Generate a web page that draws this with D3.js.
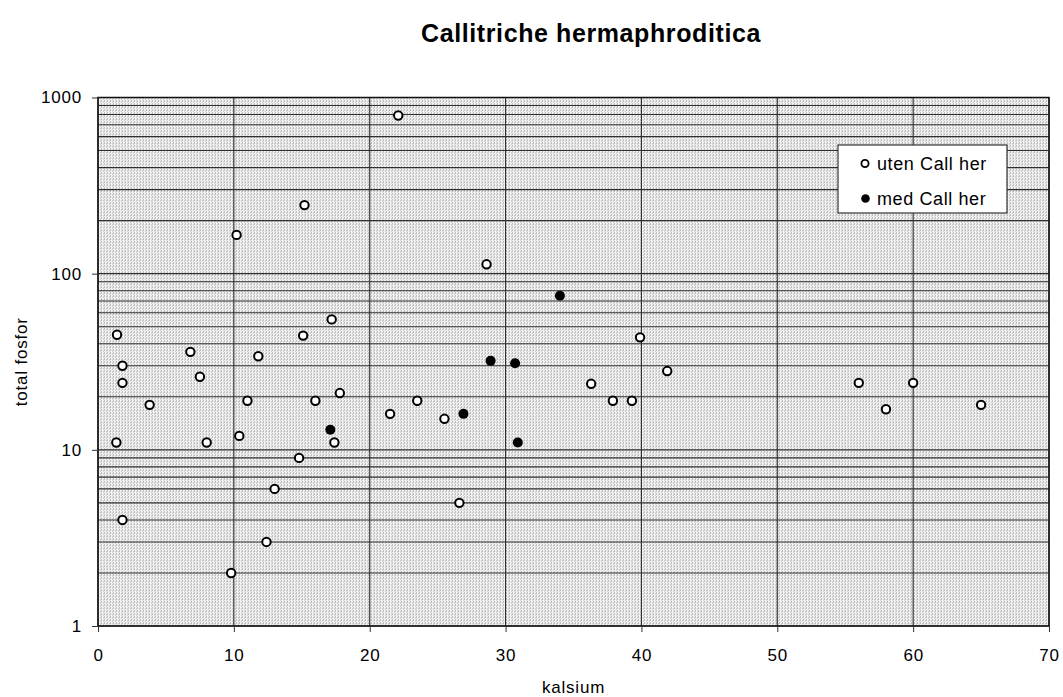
<!DOCTYPE html>
<html>
<head>
<meta charset="utf-8">
<script src="https://cdn.jsdelivr.net/npm/d3@7"></script>
<style>
  body { margin: 0; background: #fff; }
  text { font-family: "Liberation Sans", Arial, sans-serif; }
</style>
</head>
<body>
<div id="vis"></div>
<script>
// uten Call her (open circles)
var utenKalsium = [1.4, 1.35, 1.8, 1.8, 1.8, 3.8, 6.8, 7.5, 8.0, 9.8, 10.2, 10.4, 11.0, 11.8, 12.4, 13.0, 14.8, 15.2, 15.1, 16.0, 17.2, 17.4, 17.8, 21.5, 22.1, 23.5, 25.5, 26.6, 28.6, 36.3, 37.9, 39.3, 39.9, 41.9, 56.0, 58.0, 60.0, 65.0];
var utenFosfor = [45, 11, 30, 24, 4, 18, 36, 26, 11, 2, 166, 12, 19, 34, 3, 6, 9, 245, 44.5, 19, 55, 11, 21, 16, 790, 19, 15, 5, 113, 23.7, 19, 19, 43.5, 28, 24, 17, 24, 18];

// med Call her (filled circles)
var medKalsium = [17.1, 26.9, 28.9, 30.7, 30.9, 34.0];
var medFosfor = [13, 16, 32, 31, 11, 75];

var xTicks = [0, 10, 20, 30, 40, 50, 60, 70];
var yTicks = [1, 10, 100, 1000];

var width = 1063;
var height = 697;

var margin = {
    top: 97.5,
    left: 98,
    right: 14,
    bottom: 71
};

var svg = d3.select("#vis")
    .append("svg")
    .attr("width", width)
    .attr("height", height);

var w = width - margin.left - margin.right;
var h = height - margin.top - margin.bottom;

// stipple background
var defs = svg.append("defs");
var pat = defs.append("pattern")
    .attr("id", "stipple")
    .attr("patternUnits", "userSpaceOnUse")
    .attr("width", 3)
    .attr("height", 3);
pat.append("rect").attr("width", 3).attr("height", 3).attr("fill", "#f2f2f2");
pat.append("rect").attr("x", 0).attr("y", 0).attr("width", 1).attr("height", 1).attr("fill", "#8a8a8a");
pat.append("rect").attr("x", 2).attr("y", 1).attr("width", 1).attr("height", 1).attr("fill", "#b0b0b0");

var g = svg.append("g")
    .attr("transform", "translate(" + margin.left + "," + margin.top + ")");

var xscale = d3.scaleLinear()
    .domain([0, 70])
    .range([0, w]);

var yscale = d3.scaleLog()
    .domain([1, 1000])
    .range([h, 0]);

g.append("rect")
    .attr("width", w)
    .attr("height", h)
    .attr("fill", "url(#stipple)");

// horizontal grid at every log tick
var minor = [];
[1, 10, 100].forEach(function (d) {
    for (var k = 1; k <= 9; k++) minor.push(d * k);
});

g.selectAll(".hgrid")
    .data(minor)
    .enter()
    .append("line")
    .attr("class", "hgrid")
    .attr("x1", 0)
    .attr("x2", w)
    .attr("y1", function (d) { return yscale(d); })
    .attr("y2", function (d) { return yscale(d); })
    .attr("stroke", "#2e2e2e")
    .attr("stroke-width", 1.1);

g.selectAll(".vgrid")
    .data(xTicks)
    .enter()
    .append("line")
    .attr("class", "vgrid")
    .attr("x1", function (d) { return xscale(d); })
    .attr("x2", function (d) { return xscale(d); })
    .attr("y1", 0)
    .attr("y2", h)
    .attr("stroke", "#2e2e2e")
    .attr("stroke-width", 1.1);

g.append("rect")
    .attr("width", w)
    .attr("height", h)
    .attr("fill", "none")
    .attr("stroke", "#111")
    .attr("stroke-width", 1.5);

// axes
var xaxis = d3.axisBottom(xscale)
    .tickValues(xTicks)
    .tickSize(6)
    .tickPadding(17)
    .tickFormat(d3.format("d"));

var yaxis = d3.axisLeft(yscale)
    .tickValues(yTicks)
    .tickSize(6)
    .tickPadding(10)
    .tickFormat(d3.format("d"));

function styleAxis(a) {
    a.select(".domain").remove();
    a.selectAll("line").attr("stroke", "#333");
    a.selectAll("text")
        .attr("font-size", 17)
        .attr("letter-spacing", 0.8)
        .attr("fill", "#000")
        .attr("font-family", "Liberation Sans, Arial, sans-serif");
}

g.append("g")
    .attr("transform", "translate(0," + h + ")")
    .call(xaxis)
    .call(styleAxis);

g.append("g")
    .call(yaxis)
    .call(styleAxis);

// points
var uten = utenKalsium.map(function (d, i) { return [d, utenFosfor[i]]; });
var med = medKalsium.map(function (d, i) { return [d, medFosfor[i]]; });

g.selectAll(".uten")
    .data(uten)
    .enter()
    .append("circle")
    .attr("class", "uten")
    .attr("cx", function (d) { return xscale(d[0]); })
    .attr("cy", function (d) { return yscale(d[1]); })
    .attr("r", 4.2)
    .attr("fill", "#fff")
    .attr("stroke", "#000")
    .attr("stroke-width", 2);

g.selectAll(".med")
    .data(med)
    .enter()
    .append("circle")
    .attr("class", "med")
    .attr("cx", function (d) { return xscale(d[0]); })
    .attr("cy", function (d) { return yscale(d[1]); })
    .attr("r", 5)
    .attr("fill", "#000");

// legend
var lg = svg.append("g").attr("transform", "translate(838,145)");
lg.append("rect")
    .attr("width", 169)
    .attr("height", 68)
    .attr("fill", "#fff")
    .attr("stroke", "#333")
    .attr("stroke-width", 1.2);
lg.append("circle").attr("cx", 27).attr("cy", 18.5).attr("r", 3.6)
    .attr("fill", "#fff").attr("stroke", "#000").attr("stroke-width", 1.8);
lg.append("text").attr("x", 39).attr("y", 24.5).attr("font-size", 18)
    .attr("letter-spacing", 0.6).text("uten Call her");
lg.append("circle").attr("cx", 27.5).attr("cy", 53.5).attr("r", 4.3).attr("fill", "#000");
lg.append("text").attr("x", 39).attr("y", 59.5).attr("font-size", 18)
    .attr("letter-spacing", 0.6).text("med Call her");

// titles
svg.append("text")
    .attr("x", 591)
    .attr("y", 42)
    .attr("text-anchor", "middle")
    .attr("font-size", 25)
    .attr("font-weight", "bold")
    .attr("letter-spacing", 0.6)
    .text("Callitriche hermaphroditica");

svg.append("text")
    .attr("x", margin.left + w / 2)
    .attr("y", 693)
    .attr("text-anchor", "middle")
    .attr("font-size", 17)
    .attr("letter-spacing", 0.8)
    .text("kalsium");

svg.append("text")
    .attr("transform", "translate(27," + (margin.top + h / 2) + ") rotate(-90)")
    .attr("text-anchor", "middle")
    .attr("font-size", 17)
    .attr("letter-spacing", 0.8)
    .text("total fosfor");
</script>
</body>
</html>
